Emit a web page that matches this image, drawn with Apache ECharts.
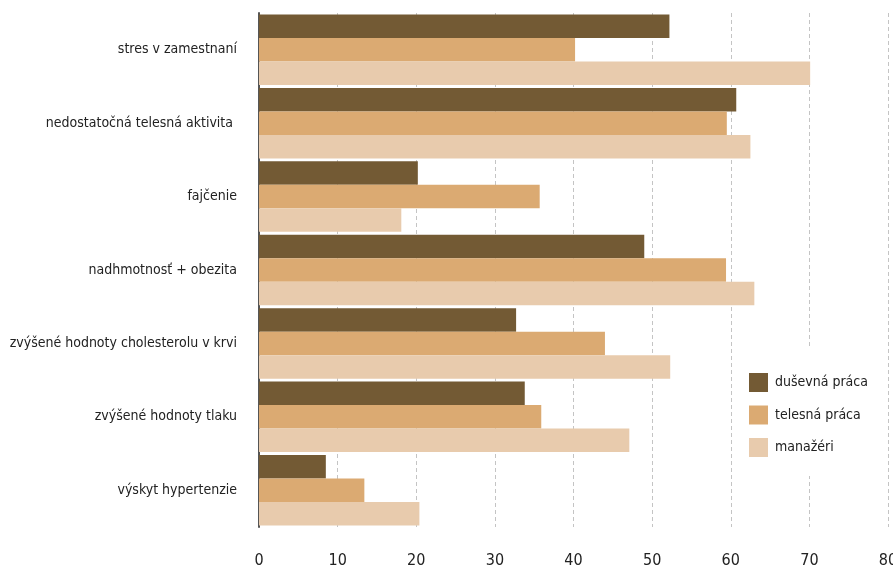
<!DOCTYPE html>
<html>
<head>
<meta charset="utf-8">
<script src="https://cdn.jsdelivr.net/npm/echarts@6/dist/echarts.min.js"></script>
<style>
  html, body { margin: 0; padding: 0; background: #fff; }
  #chart { width: 893px; height: 568px; }
</style>
</head>
<body>
<div id="chart"></div>
<script>
const categories = [
  'stres v zamestnaní',
  'nedostatočná telesná aktivita ',
  'fajčenie',
  'nadhmotnosť + obezita',
  'zvýšené hodnoty cholesterolu v krvi',
  'zvýšené hodnoty tlaku',
  'výskyt hypertenzie'
];
const seriesNames = ['duševná práca', 'telesná práca', 'manažéri'];
const dusevna = [52.2, 60.7, 20.2, 49.0, 32.7, 33.8, 8.5];
const telesna = [40.2, 59.5, 35.7, 59.4, 44.0, 35.9, 13.4];
const manazeri = [70.1, 62.5, 18.1, 63.0, 52.3, 47.1, 20.4];
const xTicks = { min: 0, max: 80, step: 10 };
const colors = ['#735a34', '#dbaa72', '#e8cbad'];

const font = "'Liberation Sans Narrow', 'DejaVu Sans Condensed', 'Roboto', sans-serif";

const chart = echarts.init(document.getElementById('chart'), null, { renderer: 'canvas' });
const values = [dusevna, telesna, manazeri];

chart.setOption({
  animation: false,
  backgroundColor: '#ffffff',
  textStyle: { fontFamily: font },
  grid: { left: 259, right: 5, top: 13, bottom: 41, containLabel: false, outerBoundsMode: 'none' },
  legend: {
    orient: 'vertical',
    left: 739,
    top: 347,
    padding: [26, 14, 19, 10],
    itemWidth: 19,
    itemHeight: 19,
    itemGap: 13.5,
    backgroundColor: '#ffffff',
    icon: 'rect',
    textStyle: { fontFamily: font, fontSize: 14, color: '#222', padding: [0, 0, 0, 2] },
    data: seriesNames
  },
  xAxis: {
    type: 'value',
    min: xTicks.min,
    max: xTicks.max,
    interval: xTicks.step,
    axisLine: { show: false },
    axisTick: { show: false },
    axisLabel: { fontFamily: font, fontSize: 16, color: '#222', margin: 26 },
    splitLine: { show: true, lineStyle: { color: '#c4c4c4', type: [4, 3], width: 1 } }
  },
  yAxis: {
    type: 'category',
    inverse: true,
    data: categories,
    axisLine: { show: true, lineStyle: { color: '#555', width: 2 } },
    axisTick: { show: false },
    axisLabel: { fontFamily: font, fontSize: 14, color: '#222', margin: 22 }
  },
  series: values.map((v, i) => ({
    name: seriesNames[i],
    type: 'bar',
    data: v,
    itemStyle: { color: colors[i] },
    barGap: '0%',
    barCategoryGap: '4%',
    z: 3
  }))
});
</script>
</body>
</html>
